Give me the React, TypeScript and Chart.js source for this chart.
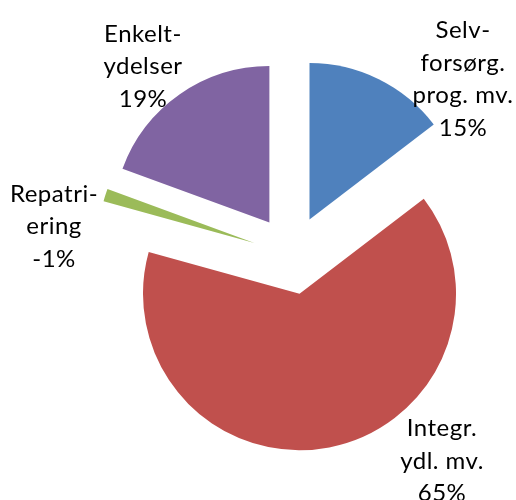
import React, { useEffect, useRef } from "react";
import { Chart, registerables } from "chart.js";

Chart.register(...registerables);

const categories = ["Selvforsørg. prog. mv.", "Integr. ydl. mv.", "Repatriering", "Enkeltydelser"];
const values = [14.6, 64.7, -1.3, 19.4];
const labelLines = [
  ["Selv-", "forsørg.", "prog. mv.", "15%"],
  ["Integr.", "ydl. mv.", "65%"],
  ["Repatri-", "ering", "-1%"],
  ["Enkelt-", "ydelser", "19%"],
];
const colors = ["#4F81BD", "#C0504D", "#9BBB59", "#8064A2"];

// label anchor (center x, first baseline) relative to the pie center
const labelAnchors = [
  [171, -217],
  [150, 181],
  [-238, -53.5],
  [-149, -213.5],
];

const EXPLODE = 39.5;
const RADIUS = 156.5;
const FONT = "24px Lato";
const LINE_H = 32.5;

// explode each slice outward along its mid angle by a fixed distance
const explodePlugin = {
  id: "explode",
  beforeDatasetsDraw(chart: any) {
    const meta = chart.getDatasetMeta(0);
    meta.data.forEach((el: any) => {
      const mid = (el.startAngle + el.endAngle) / 2;
      el._ox = el.x;
      el._oy = el.y;
      el.x = el.x + Math.cos(mid) * EXPLODE;
      el.y = el.y + Math.sin(mid) * EXPLODE;
    });
  },
  afterDatasetsDraw(chart: any) {
    const meta = chart.getDatasetMeta(0);
    meta.data.forEach((el: any) => {
      if (el._ox !== undefined) {
        el.x = el._ox;
        el.y = el._oy;
      }
    });
  },
};

const labelPlugin = {
  id: "sliceLabels",
  afterDraw(chart: any) {
    const meta = chart.getDatasetMeta(0);
    const arc = meta.data[0];
    if (!arc) return;
    const cx = arc.x;
    const cy = arc.y;
    const ctx = chart.ctx;
    ctx.save();
    ctx.font = FONT;
    (ctx as any).letterSpacing = "0.5px";
    ctx.fillStyle = "#000";
    ctx.textAlign = "center";
    ctx.textBaseline = "alphabetic";
    labelLines.forEach((lines, i) => {
      const [ax, ay] = labelAnchors[i];
      lines.forEach((t, j) => {
        ctx.fillText(t, cx + ax, cy + ay + j * LINE_H);
      });
    });
    ctx.restore();
  },
};

export default function App() {
  const ref = useRef<HTMLCanvasElement>(null);
  useEffect(() => {
    if (!ref.current) return;
    const chart = new Chart(ref.current, {
      type: "pie",
      data: {
        labels: categories,
        datasets: [
          {
            data: values,
            backgroundColor: colors,
            borderWidth: 0,
            offset: 0,
            hoverOffset: 0,
          } as any,
        ],
      },
      options: {
        animation: false,
        responsive: false,
        events: [],
        radius: RADIUS,
        layout: { padding: { left: 68, right: 0, top: 10, bottom: 0 } },
        plugins: {
          legend: { display: false },
          tooltip: { enabled: false },
        },
      } as any,
      plugins: [explodePlugin, labelPlugin],
    });
    return () => chart.destroy();
  }, []);
  return (
    <div style={{ position: "absolute", left: 0, top: 0, width: 516, height: 500 }}>
      <canvas ref={ref} width={516} height={500} />
    </div>
  );
}
